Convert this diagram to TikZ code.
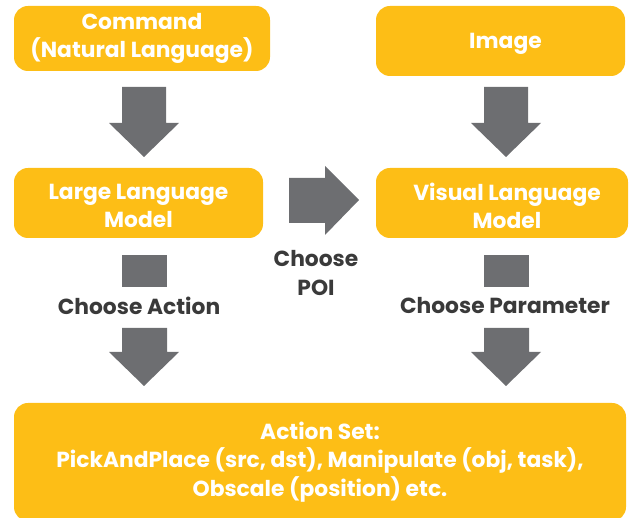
\documentclass[tikz,border=0pt]{standalone}
\usepackage{fontspec}
\setmainfont{Poppins}
\definecolor{boxy}{HTML}{FDBE16}
\definecolor{arrg}{HTML}{6D6E71}
\definecolor{txtg}{HTML}{3A3A3A}
\begin{document}
\begin{tikzpicture}[x=1pt,y=-1pt,
  box/.style={fill=boxy,rounded corners=14pt,text=white,font=\fontsize{21.8}{28.5}\selectfont\bfseries,align=center,inner sep=0pt},
  boxtxt/.style={text=white,font=\fontsize{21.8}{28.5}\selectfont\bfseries,align=center,inner sep=0pt},
  lbl/.style={text=txtg,font=\fontsize{21.8}{29}\selectfont\bfseries,align=center,inner sep=0pt},
  blk/.style={fill=arrg}]
\useasboundingbox (0,0) rectangle (630,518);
\node[box,minimum width=256pt,minimum height=65pt] (cmd) at (142,38.5) {Command\\(Natural Language)};
\node[box,minimum width=249pt,minimum height=70pt] (img) at (500.5,41) {};
\node[boxtxt] (imgt) at ([xshift=5pt,yshift=-3pt]img.center) {Image};
\node[box,minimum width=249pt,minimum height=70pt] (llm) at (138.5,203) {};
\node[boxtxt] (llmt) at ([yshift=-3pt]llm.center) {Large Language\\Model};
\node[box,minimum width=252pt,minimum height=70pt] (vlm) at (502,203) {};
\node[boxtxt] (vlmt) at ([xshift=5pt,yshift=-3pt]vlm.center) {Visual Language\\Model};
\node[box,minimum width=612pt,minimum height=118pt] (act) at (320,462) {Action Set:\\PickAndPlace (src, dst), Manipulate (obj, task),\\Obscale (position) etc.};
\node[lbl] (ca) at (139,306) {Choose Action};
\node[lbl] (cp) at (505,306) {Choose Parameter};
\node[lbl] (poi) at (316,273) {Choose\\POI};
% down arrows
\fill[blk] (122,87) -- (166,87) -- (166,123) -- (179,123) -- (144,157) -- (109,123) -- (122,123) -- cycle;
\fill[blk] (484,87) -- (528,87) -- (528,123) -- (541,123) -- (506,157) -- (471,123) -- (484,123) -- cycle;
% choose POI arrow
\fill[blk] (289,178) -- (325,178) -- (325,166) -- (359,200) -- (325,235) -- (325,223) -- (289,223) -- cycle;
% broken arrows
\fill[blk] (122,255) rectangle (167,287);
\fill[blk] (122,328) -- (167,328) -- (167,352) -- (179,352) -- (144,386) -- (109,352) -- (122,352) -- cycle;
\fill[blk] (484,255) rectangle (529,287);
\fill[blk] (484,328) -- (529,328) -- (529,352) -- (541,352) -- (506,386) -- (471,352) -- (484,352) -- cycle;
\end{tikzpicture}
\end{document}
